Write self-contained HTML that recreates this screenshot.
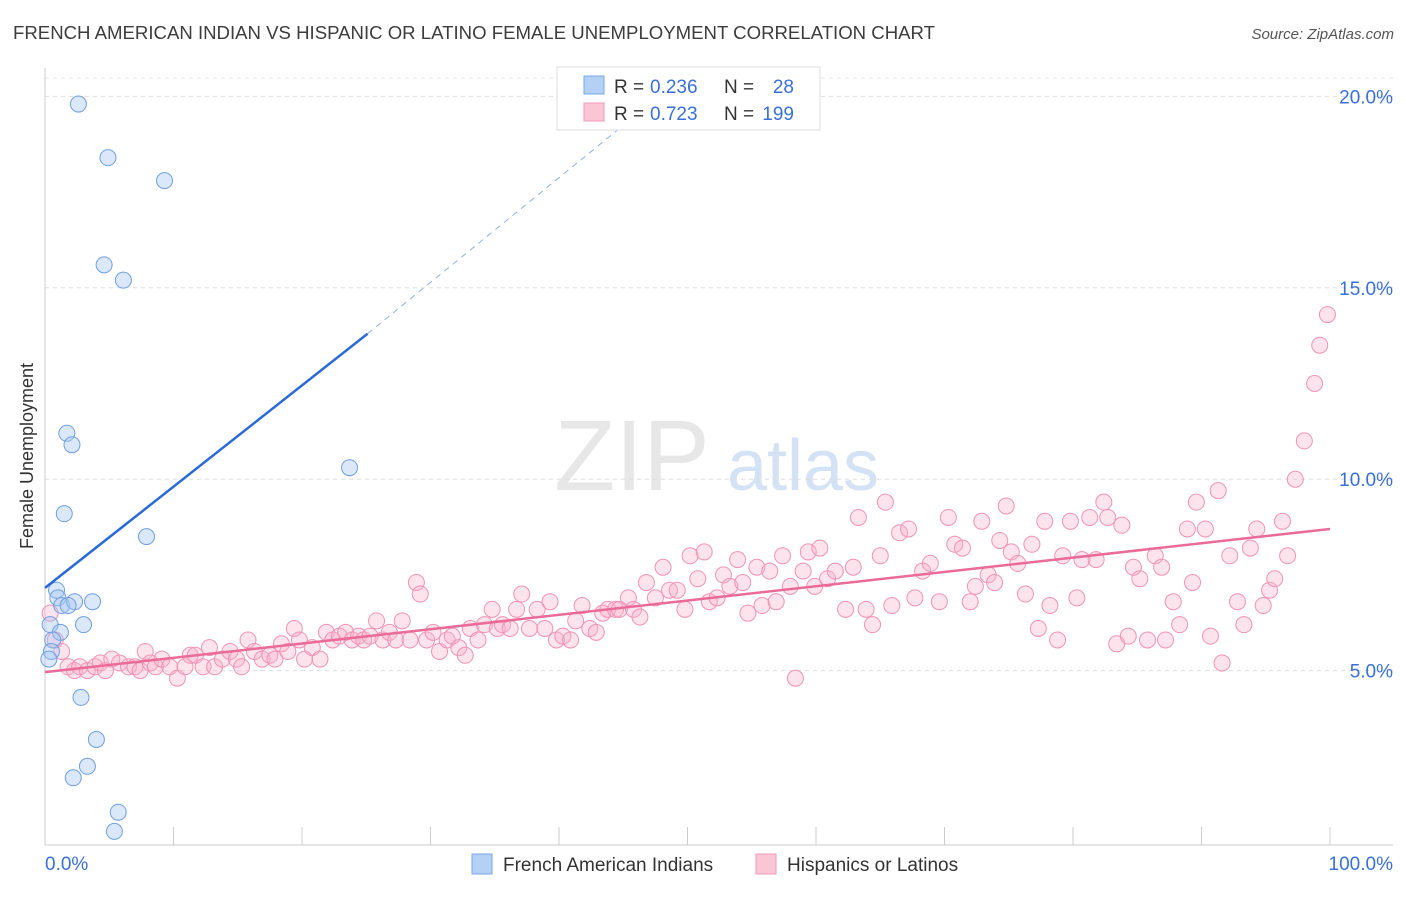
<!DOCTYPE html>
<html><head><meta charset="utf-8"><style>
body{margin:0;background:#fff;font-family:"Liberation Sans",sans-serif;}
svg text{font-family:"Liberation Sans",sans-serif;}
</style></head><body>
<svg id="chart" width="1406" height="892" xmlns="http://www.w3.org/2000/svg">
<text x="13" y="39" font-size="18" fill="#3c3c3c" textLength="922" lengthAdjust="spacingAndGlyphs">FRENCH AMERICAN INDIAN VS HISPANIC OR LATINO FEMALE UNEMPLOYMENT CORRELATION CHART</text>
<text x="1394" y="39" font-size="15" fill="#555" text-anchor="end" font-style="italic">Source: ZipAtlas.com</text>
<g>
<text x="632" y="490" font-size="100" fill="#d8d8d8" text-anchor="middle" font-family="Liberation Serif,serif" opacity="0.6">ZIP</text>
<text x="803" y="490" font-size="72" fill="#b8cff0" text-anchor="middle" opacity="0.6">atlas</text>
</g>
<text transform="translate(33,456) rotate(-90)" font-size="18" fill="#333" text-anchor="middle">Female Unemployment</text>
<g id="grid"></g><g id="axes"></g><g id="marks"></g>
<g>
<rect x="557" y="67" width="263" height="63" fill="#fff" stroke="#ddd"/>
<rect x="584" y="76" width="20" height="18" fill="#b5d0f5" stroke="#7aa6e6"/>
<text x="614" y="93" font-size="19" fill="#333">R =</text>
<text x="650" y="93" font-size="19" fill="#3a6fd8">0.236</text>
<text x="724" y="93" font-size="19" fill="#333">N =</text>
<text x="794" y="93" font-size="19" fill="#3a6fd8" text-anchor="end">28</text>
<rect x="584" y="103" width="20" height="18" fill="#fac6d6" stroke="#ef9ab8"/>
<text x="614" y="120" font-size="19" fill="#333">R =</text>
<text x="650" y="120" font-size="19" fill="#3a6fd8">0.723</text>
<text x="724" y="120" font-size="19" fill="#333">N =</text>
<text x="794" y="120" font-size="19" fill="#3a6fd8" text-anchor="end">199</text>
</g>
<g>
<rect x="472" y="854" width="20" height="20" fill="#b5d0f5" stroke="#7aa6e6"/>
<text x="503" y="871" font-size="19" fill="#333">French American Indians</text>
<rect x="756" y="854" width="20" height="20" fill="#fac6d6" stroke="#ef9ab8"/>
<text x="787" y="871" font-size="19" fill="#333">Hispanics or Latinos</text>
</g>
</svg>
<script>
const yTicks=[5,10,15,20];
const yTickLabels=["5.0%","10.0%","15.0%","20.0%"];
const xTickLabels=["0.0%","100.0%"];
const blueX=[2.6,4.9,9.3,4.6,6.1,1.7,2.1,23.7,1.5,7.9,0.9,1.0,1.3,2.3,3.7,3.0,0.4,1.2,0.6,0.5,0.3,2.8,4.0,3.3,2.2,5.7,5.4,1.8];
const blueY=[19.8,18.4,17.8,15.6,15.2,11.2,10.9,10.3,9.1,8.5,7.1,6.9,6.7,6.8,6.8,6.2,6.2,6.0,5.8,5.5,5.3,4.3,3.2,2.5,2.2,1.3,0.8,6.7];
const pinkX=[0.4,0.8,1.3,1.8,2.3,2.7,3.3,3.9,4.3,4.7,5.2,5.8,6.5,7.0,7.4,7.8,8.2,8.6,9.1,9.7,10.3,10.9,11.3,11.7,12.3,12.8,13.2,13.8,14.4,14.9,15.3,15.8,16.3,16.9,17.5,17.9,18.4,18.9,19.4,19.8,20.2,20.8,21.4,21.9,22.4,22.9,23.4,23.9,24.4,24.8,25.3,25.8,26.3,26.8,27.3,27.8,28.4,28.9,29.2,29.7,30.2,30.7,31.3,31.7,32.2,32.7,33.1,33.7,34.2,34.8,35.2,35.6,36.2,36.7,37.1,37.7,38.3,38.9,39.3,39.8,40.3,40.9,41.3,41.8,42.4,42.9,43.4,43.8,44.4,44.7,45.4,45.8,46.3,46.8,47.5,48.1,48.6,49.2,49.8,50.2,50.8,51.3,51.7,52.3,52.8,53.3,53.9,54.3,54.7,55.4,55.8,56.4,56.9,57.4,58.0,58.4,59.0,59.4,59.9,60.3,60.9,61.5,62.3,62.9,63.3,63.9,64.4,65.0,65.4,65.9,66.5,67.2,67.7,68.3,68.9,69.6,70.3,70.8,71.4,72.0,72.4,72.9,73.4,73.9,74.3,74.8,75.2,75.7,76.3,76.8,77.3,77.8,78.2,78.8,79.2,79.8,80.3,80.7,81.3,81.8,82.4,82.7,83.4,83.8,84.3,84.7,85.2,85.8,86.4,86.9,87.2,87.8,88.3,88.9,89.3,89.6,90.3,90.7,91.3,91.6,92.2,92.8,93.3,93.8,94.3,94.8,95.3,95.7,96.3,96.7,97.3,98.0,98.8,99.2,99.8];
const pinkY=[6.5,5.8,5.5,5.1,5.0,5.1,5.0,5.1,5.2,5.0,5.3,5.2,5.1,5.1,5.0,5.5,5.2,5.1,5.3,5.1,4.8,5.1,5.4,5.4,5.1,5.6,5.1,5.3,5.5,5.3,5.1,5.8,5.5,5.3,5.4,5.3,5.7,5.5,6.1,5.8,5.3,5.6,5.3,6.0,5.8,5.9,6.0,5.8,5.9,5.8,5.9,6.3,5.8,6.0,5.8,6.3,5.8,7.3,7.0,5.8,6.0,5.5,5.8,5.9,5.6,5.4,6.1,5.8,6.2,6.6,6.1,6.2,6.1,6.6,7.0,6.1,6.6,6.1,6.8,5.8,5.9,5.8,6.3,6.7,6.1,6.0,6.5,6.6,6.6,6.6,6.9,6.6,6.4,7.3,6.9,7.7,7.1,7.1,6.6,8.0,7.4,8.1,6.8,6.9,7.5,7.2,7.9,7.3,6.5,7.7,6.7,7.6,6.8,8.0,7.2,4.8,7.6,8.1,7.2,8.2,7.4,7.6,6.6,7.7,9.0,6.6,6.2,8.0,9.4,6.7,8.6,8.7,6.9,7.6,7.8,6.8,9.0,8.3,8.2,6.8,7.2,8.9,7.5,7.3,8.4,9.3,8.1,7.8,7.0,8.3,6.1,8.9,6.7,5.8,8.0,8.9,6.9,7.9,9.0,7.9,9.4,9.0,5.7,8.8,5.9,7.7,7.4,5.8,8.0,7.7,5.8,6.8,6.2,8.7,7.3,9.4,8.7,5.9,9.7,5.2,8.0,6.8,6.2,8.2,8.7,6.7,7.1,7.4,8.9,8.0,10.0,11.0,12.5,13.5,14.3];
const blueLine=[[0,7.16],[25.1,13.8]];
const blueDash=[[25.1,13.8],[46.3,19.6]];
const pinkLine=[[0,4.96],[100,8.7]];

const X0=45,X1=1330,Y0=862,PY=38.28;
const sx=v=>X0+(X1-X0)*v/100;
const sy=v=>Y0-v*PY;
const NS="http://www.w3.org/2000/svg";
function mk(parent,tag,attrs){const e=document.createElementNS(NS,tag);for(const k in attrs)e.setAttribute(k,attrs[k]);document.getElementById(parent).appendChild(e);return e;}
yTicks.forEach((t,i)=>{
 const g=mk('grid','line',{x1:45,x2:1393,y1:sy(t),y2:sy(t),stroke:'#ddd','stroke-dasharray':'4,4'});
 
 
 const l=mk('axes','text',{x:1393,y:sy(t)+7,'font-size':19,fill:'#3a6fd8','text-anchor':'end'});l.textContent=yTickLabels[i];
 
 
});
const gtop=mk('grid','line',{x1:45,x2:1393,y1:78,y2:78,stroke:'#e6e6e6','stroke-dasharray':'4,4'});


const xa=mk('axes','line',{x1:45,x2:1393,y1:845,y2:845,stroke:'#ccc'});


const ya=mk('axes','line',{x1:45,x2:45,y1:68,y2:845,stroke:'#ccc'});


for(let i=0;i<=10;i++){const t=mk('axes','line',{x1:sx(i*10),x2:sx(i*10),y1:827,y2:845,stroke:'#ccc'});
 
 }
[[0,'start',45],[100,'end',1393]].forEach((d,i)=>{const l=mk('axes','text',{x:d[2],y:870,'font-size':19,fill:'#3a6fd8','text-anchor':d[1]});l.textContent=xTickLabels[i];
 
 });
pinkX.forEach((x,i)=>{const c=mk('marks','circle',{cx:sx(x),cy:sy(pinkY[i]),r:8,fill:'rgba(248,175,200,0.35)',stroke:'#f093b5','stroke-width':1});
 
 });
const pl=mk('marks','line',{x1:sx(pinkLine[0][0]),y1:sy(pinkLine[0][1]),x2:sx(pinkLine[1][0]),y2:sy(pinkLine[1][1]),stroke:'#ea6a98','stroke-width':2.5});


blueX.forEach((x,i)=>{const c=mk('marks','circle',{cx:sx(x),cy:sy(blueY[i]),r:8,fill:'rgba(165,198,242,0.4)',stroke:'#6f9fe0','stroke-width':1});
 
 });
const bl=mk('marks','line',{x1:sx(blueLine[0][0]),y1:sy(blueLine[0][1]),x2:sx(blueLine[1][0]),y2:sy(blueLine[1][1]),stroke:'#2a6ad6','stroke-width':2.5});


const bd=mk('marks','line',{x1:sx(blueDash[0][0]),y1:sy(blueDash[0][1]),x2:sx(blueDash[1][0]),y2:sy(blueDash[1][1]),stroke:'#8fb0e6','stroke-width':1,'stroke-dasharray':'6,5'});


</script>
</body></html>
